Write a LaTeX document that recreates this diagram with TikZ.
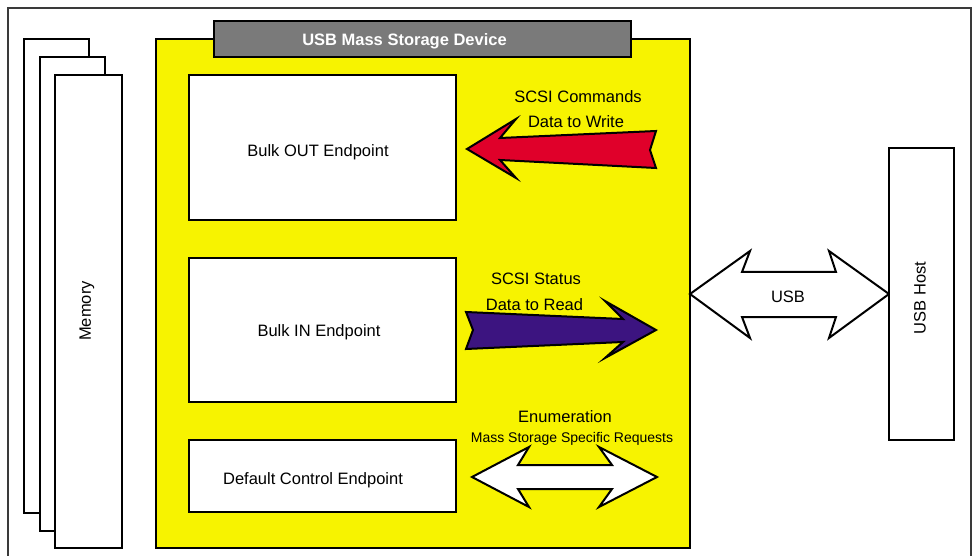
\documentclass[tikz,border=0pt]{standalone}
\usepackage{fontspec}
\setmainfont{Liberation Sans}
\definecolor{ylw}{HTML}{F7F300}
\definecolor{tabgray}{HTML}{7A7A7A}
\definecolor{redarrow}{HTML}{E0002A}
\definecolor{purplearrow}{HTML}{3C1480}
\definecolor{framegray}{HTML}{3A3A3A}
\tikzset{
  boxline/.style={draw=black, line width=2pt, fill=white},
  blockarrow/.style={draw=black, line width=2pt, line join=miter},
  lbl/.style={inner sep=0pt, font=\fontsize{16.5}{19}\selectfont},
  smalllbl/.style={inner sep=0pt, font=\fontsize{14}{16}\selectfont},
}
\begin{document}
\begin{tikzpicture}[x=1pt,y=-1pt]
\useasboundingbox (0,0) rectangle (975,556);
\fill[white] (0,0) rectangle (975,556);
% outer frame
\draw[framegray, line width=1.5pt] (8,556) -- (8,8) -- (971,8) -- (971,556);
% memory stack
\draw[boxline] (24,39) rectangle (89,513);
\draw[boxline] (40,57) rectangle (105,531);
\draw[boxline] (55,75) rectangle (122,548);
\node[lbl, rotate=90] (mem) at (87,311) {Memory};
% device
\draw[draw=black, line width=2pt, fill=ylw] (156,39) rectangle (690,548);
\draw[draw=black, line width=2pt, fill=tabgray] (214,21) rectangle (631,57);
\node[lbl, anchor=base, text=white, font=\fontsize{16.5}{19}\selectfont\bfseries] (title) at (404.5,46) {USB Mass Storage Device};
% endpoints
\draw[boxline] (189,75) rectangle (456,220);
\node[lbl, anchor=base] (bout) at (318,157) {Bulk OUT Endpoint};
\draw[boxline] (189,258) rectangle (456,402);
\node[lbl, anchor=base] (bin) at (319,336) {Bulk IN Endpoint};
\draw[boxline] (189,440) rectangle (456,512);
\node[lbl, anchor=base] (ctl) at (313,484) {Default Control Endpoint};
% red arrow
\draw[blockarrow, fill=redarrow] (467,149) -- (516,119) -- (500,138) -- (656,131) -- (650,150) -- (656,168) -- (500,160) -- (516,178) -- cycle;
\node[lbl, anchor=base] (cmd1) at (578,103) {SCSI Commands};
\node[lbl, anchor=base] (cmd2) at (576,128) {Data to Write};
% purple arrow
\draw[blockarrow, fill=purplearrow] (466,312) -- (623,319) -- (605,301) -- (656,330) -- (605,358) -- (623,342) -- (466,349) -- (473,330) -- cycle;
\node[lbl, anchor=base] (st1) at (536,285) {SCSI Status};
\node[lbl, anchor=base] (st2) at (534.5,310) {Data to Read};
% enumeration arrow
\draw[blockarrow, fill=white] (472,477) -- (529,447) -- (518,465) -- (612,465) -- (599,447) -- (657,477) -- (599,507) -- (612,489) -- (518,489) -- (529,507) -- cycle;
\node[lbl, anchor=base] (en1) at (565,422) {Enumeration};
\node[smalllbl, anchor=base] (en2) at (572,442) {Mass Storage Specific Requests};
% USB arrow
\draw[blockarrow, fill=white] (690,294) -- (750,251) -- (742,272) -- (836,272) -- (829,251) -- (889,294) -- (829,338) -- (836,317) -- (742,317) -- (750,338) -- cycle;
\node[lbl, anchor=base] (usb) at (788,302) {USB};
% USB host
\draw[boxline] (889,148) rectangle (954,440);
\node[lbl, rotate=90] (host) at (920,298) {USB Host};
\end{tikzpicture}
\end{document}
